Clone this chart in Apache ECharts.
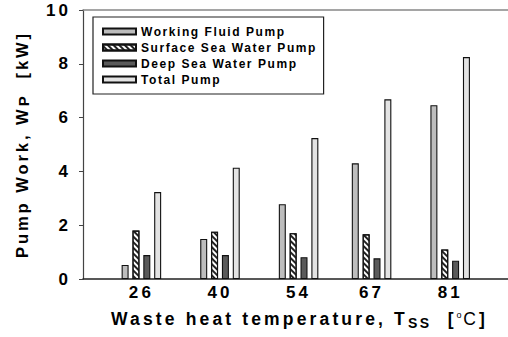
<!DOCTYPE html>
<html>
<head>
<meta charset="utf-8">
<script src="https://cdn.jsdelivr.net/npm/echarts@6/dist/echarts.min.js"></script>
<style>
  html, body { margin: 0; padding: 0; background: #fff; }
  #main { width: 508px; height: 337px; }
  /* the original uses wide letter spacing on every label */
  #main text { letter-spacing: 0.18em; }
  /* legend entries (only 12px text) are a bit tighter */
  #main text[style*="font-size: 12px"] { letter-spacing: 0.13em; }
</style>
</head>
<body>
<div id="main"></div>
<script>
// waste heat temperature (x, value axis) and pump work [kW]
const temps = [26, 40, 54, 67, 81];
const workingFluid = [0.52, 1.49, 2.78, 4.30, 6.46];
const surfaceSea = [1.80, 1.76, 1.70, 1.66, 1.10];
const deepSea = [0.89, 0.89, 0.81, 0.77, 0.68];
const totalPump = [3.23, 4.14, 5.24, 6.68, 8.25];
const seriesNames = ['Working Fluid Pump', 'Surface Sea Water Pump', 'Deep Sea Water Pump', 'Total Pump'];
const xTicks = [26, 40, 54, 67, 81];
const yTicks = [0, 2, 4, 6, 8, 10];

const FONT = '"Liberation Sans", Arial, sans-serif';
const SPACING = 0.18;

// width of a text run incl. the css letter spacing, used for rich tokens
const measureCtx = document.createElement('canvas').getContext('2d');
function spacedWidth(text, size, weight) {
    measureCtx.font = (weight || 'bold') + ' ' + size + 'px ' + FONT;
    return measureCtx.measureText(text).width + text.length * size * SPACING;
}
function tok(text, size, weight, extra) {
    return Object.assign({
        fontFamily: FONT, fontSize: size, fontWeight: weight || 'bold', color: '#000',
        width: spacedWidth(text, size, weight)
    }, extra || {});
}

function barSeries(name, values, itemStyle) {
    return {
        name: name,
        type: 'bar',
        data: temps.map((t, i) => [t, values[i]]),
        barWidth: 7,
        barGap: '55%',
        itemStyle: Object.assign({borderColor: '#111', borderWidth: 1.1}, itemStyle),
        emphasis: {disabled: true}
    };
}

const xMin = 15.6, xMax = 91.3;

const option = {
    animation: false,
    backgroundColor: '#fff',
    grid: {left: 83, right: 0, top: 10, bottom: 58},
    legend: {
        orient: 'vertical',
        left: 93, top: 17,
        padding: [8, 41, 8, 9],
        itemWidth: 33, itemHeight: 6, itemGap: 3,
        borderColor: '#222', borderWidth: 1.2,
        icon: 'rect',
        selectedMode: false,
        data: seriesNames,
        textStyle: {fontFamily: FONT, fontWeight: 'bold', fontSize: 12, color: '#000', lineHeight: 13}
    },
    xAxis: [
        {
            type: 'value', min: xMin, max: xMax,
            axisLine: {show: true, onZero: false, lineStyle: {color: '#222', width: 1.5}},
            axisTick: {show: false},
            splitLine: {show: false},
            axisLabel: {customValues: xTicks, fontFamily: FONT, fontSize: 17, fontWeight: 'bold', color: '#000', margin: 5},
            name: '{a|Waste heat temperature, T}{b|SS}{s|  }{c|[}{d|o}{e|C}{f|]}',
            nameLocation: 'middle',
            nameGap: 29,
            nameTextStyle: {
                rich: {
                    a: tok('Waste heat temperature, T', 17.5, 'bold', {padding: [0, 0, 0, 8]}),
                    b: tok('SS', 14, 'bold', {padding: [8, 0, 0, 0]}),
                    s: tok('  ', 17.5),
                    c: tok('[', 17.5),
                    d: tok('o', 9, 'normal', {padding: [0, 0, 8, 0]}),
                    e: tok('C', 17.5, 'normal'),
                    f: tok(']', 17.5)
                }
            }
        },
        {
            type: 'value', min: xMin, max: xMax, position: 'top',
            axisLine: {show: true, onZero: false, lineStyle: {color: '#888', width: 1.5}},
            axisTick: {show: false}, axisLabel: {show: false}, splitLine: {show: false}
        }
    ],
    yAxis: {
        type: 'value', min: yTicks[0], max: yTicks[yTicks.length - 1], interval: 2,
        axisLine: {show: true, lineStyle: {color: '#444', width: 1.2}},
        axisTick: {show: true, length: 4, lineStyle: {color: '#444'}},
        splitLine: {show: false},
        axisLabel: {fontFamily: FONT, fontSize: 17, fontWeight: 'bold', color: '#000', margin: 12},
        name: '{a|Pump Work, W}{b|P}{s|  }{c|[kW]}',
        nameLocation: 'middle',
        nameGap: 52,
        nameTextStyle: {
            rich: {
                a: tok('Pump Work, W', 16.5),
                b: tok('P', 15, 'bold', {padding: [3, 0, 0, 0]}),
                s: tok('  ', 16.5),
                c: tok('[kW]', 16.5)
            }
        }
    },
    series: [
        barSeries(seriesNames[0], workingFluid, {color: '#bdbdbd'}),
        barSeries(seriesNames[1], surfaceSea, {
            color: '#ffffff',
            decal: {
                symbol: 'rect', symbolSize: 1,
                dashArrayX: [1, 0], dashArrayY: [1.6, 1.6],
                rotation: Math.PI / 4, color: '#222'
            }
        }),
        barSeries(seriesNames[2], deepSea, {color: '#5a5a5a'}),
        barSeries(seriesNames[3], totalPump, {color: '#e3e3e3'})
    ]
};

const myChart = echarts.init(document.getElementById('main'), null, {renderer: 'svg'});
myChart.setOption(option);
</script>
</body>
</html>
